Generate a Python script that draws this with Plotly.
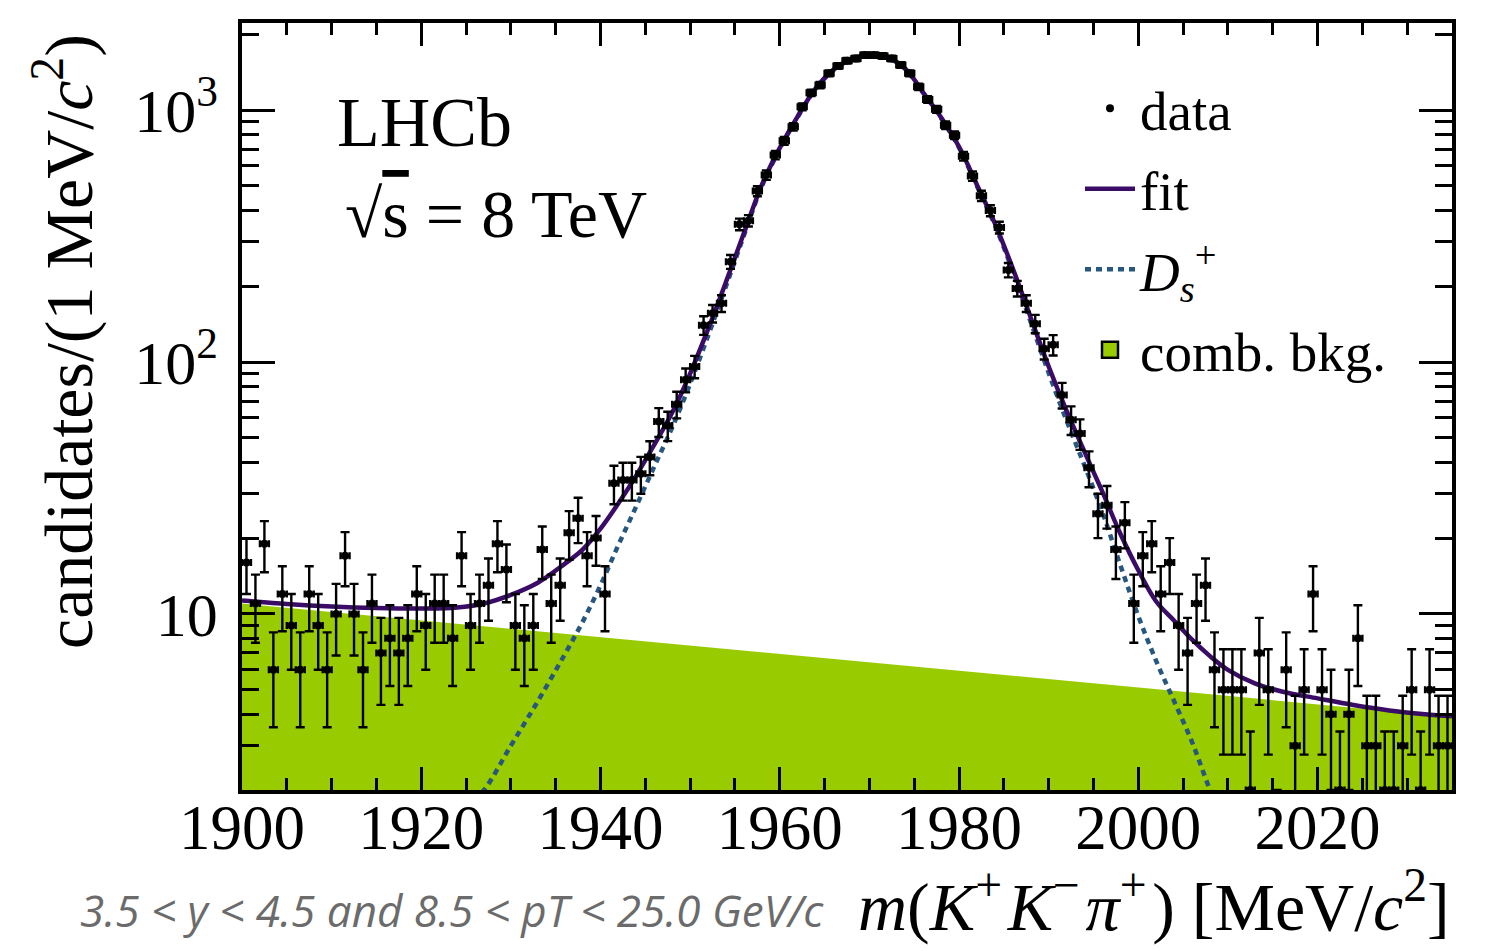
import numpy as np
import plotly.graph_objects as go

# ---------------- data ----------------
MASS_LO, MASS_HI = 1900, 2035          # x range, MeV/c^2 (1 MeV bins)
Y_LO, Y_HI = 2.0, 2217.0               # y range (log axis)

# candidates per 1 MeV bin, bins 1900-1901 ... 2034-2035
counts = [
    16, 11, 19, 6, 12, 9, 6, 12, 9, 6,          # 1900-1909
    10, 17, 10, 6, 11, 7, 8, 7, 8, 12,          # 1910-1919
    9, 11, 11, 8, 17, 9, 11, 13, 19, 15,        # 1920-1929
    9, 8, 9, 18, 11, 13, 21, 24, 17, 20,        # 1930-1939
    12, 33, 34, 34, 36, 42, 58, 56, 68, 85,     # 1940-1949
    96, 140, 156, 171, 250, 352, 364, 477, 552, 663,          # 1950-1959
    755, 858, 1031, 1171, 1257, 1400, 1496, 1570, 1604, 1653,  # 1960-1969
    1653, 1640, 1604, 1510, 1399, 1237, 1102, 1008, 871, 795,  # 1970-1979
    656, 547, 457, 399, 342, 232, 196, 171, 142, 113,          # 1980-1989
    117, 74, 59, 52, 38, 25, 27, 18, 23, 11,    # 1990-1999
    17, 19, 12, 16, 9, 7, 11, 13, 6, 5,         # 2000-2009
    5, 5, 2, 7, 5, 1, 6, 3, 5, 12,              # 2010-2019
    5, 4, 2, 4, 8, 3, 3, 2, 2, 3,               # 2020-2029
    5, 2, 5, 3, 3,                              # 2030-2034
]
bin_lo = np.arange(MASS_LO, MASS_HI)

# total fit curve
fit_mass = [1900, 1905, 1910, 1915, 1920, 1924, 1927, 1930, 1933, 1936, 1938,
            1940, 1942, 1944, 1946, 1948, 1950, 1952, 1954, 1956, 1958, 1960,
            1962, 1964, 1966, 1968, 1970, 1972, 1974, 1976, 1978, 1980, 1982,
            1984, 1986, 1988, 1990, 1992, 1994, 1996, 1998, 2000, 2002, 2004,
            2006, 2008, 2010, 2013, 2016, 2020, 2024, 2028, 2032, 2035]
fit_vals = [11.3, 10.95, 10.7, 10.55, 10.5, 10.6, 11.0, 11.9, 13.3, 15.8, 18.0,
            21.8, 27.5, 35.5, 47, 63, 90, 135, 208, 325, 505, 708,
            945, 1220, 1450, 1595, 1660, 1622, 1460, 1175, 935, 715, 505,
            355, 235, 150, 96, 64, 44, 30.5, 20.8, 14.9, 11.2, 9.4,
            7.9, 6.8, 6.0, 5.3, 4.92, 4.62, 4.35, 4.14, 4.0, 3.92]

# D_s+ signal component
ds_mass = [1925, 1927, 1930, 1933, 1936, 1938, 1940, 1942, 1944, 1946, 1948,
           1950, 1952, 1954, 1956, 1958, 1960, 1962, 1964, 1966, 1968, 1970,
           1972, 1974, 1976, 1978, 1980, 1982, 1984, 1986, 1988, 1990, 1992,
           1994, 1996, 1998, 2000, 2002, 2004, 2006, 2008, 2010]
ds_vals = [1.7, 2.0, 3.0, 4.5, 6.9, 9.3, 13.0, 18.8, 26.8, 38.5, 55,
           82, 127, 200, 318, 498, 700, 938, 1213, 1443, 1588, 1653,
           1616, 1454, 1169, 929, 709, 499, 349, 229, 144, 90.5, 58.5,
           38.8, 25.3, 15.6, 9.8, 6.5, 4.5, 3.1, 2.0, 1.35]

# combinatorial background (straight line on the log scale)
bkg_mass = [1900, 2035]
bkg_vals = [11.0, 3.9]

x_tickvals = [1900, 1920, 1940, 1960, 1980, 2000, 2020]
x_minor = [v for v in range(1905, 2035, 5) if v not in x_tickvals]
y_tickvals = [10, 100, 1000]
y_ticktext = ["10", "10<sup>2</sup>", "10<sup>3</sup>"]
y_minor = [2, 3, 4, 5, 6, 7, 8, 9, 20, 30, 40, 50, 60, 70, 80, 90,
           200, 300, 400, 500, 600, 700, 800, 900, 2000]

# ---------------- styling ----------------
SERIF = "Liberation Serif, Times New Roman, serif"
SANS = "Open Sans, DejaVu Sans, sans-serif"
PURPLE = "#3a0c68"
DSBLUE = "#27577e"
GREEN = "#99cc00"

W, H = 1485, 951
ML, MR, MT, MB = 242, 33, 23, 161
PW, PH = W - ML - MR, H - MT - MB


def px(x):
    return (x - ML) / PW


def py(y):
    return (H - MB - y) / PH


centers = bin_lo + 0.5
cnt = np.array(counts, dtype=float)
err = np.sqrt(cnt)

fig = go.Figure()

# baseline (below the axis floor) for the background fill
fig.add_trace(go.Scatter(x=bkg_mass, y=[Y_LO / 2] * len(bkg_mass), mode="lines",
                         line=dict(width=0, color=GREEN), showlegend=False,
                         hoverinfo="skip"))
fig.add_trace(go.Scatter(x=bkg_mass, y=bkg_vals, mode="lines", fill="tonexty",
                         fillcolor=GREEN, line=dict(width=0, color=GREEN),
                         showlegend=False, name="comb. bkg."))
# legend key for the background
fig.add_trace(go.Scatter(x=[None], y=[None], mode="markers", name="comb. bkg.",
                         marker=dict(symbol="square", size=16, color=GREEN,
                                     line=dict(color="black", width=2.5)),
                         legendrank=4, legendgroup="d"))

fig.add_trace(go.Scatter(x=ds_mass, y=ds_vals, mode="lines",
                         name="<i>D</i><sub><i>s</i></sub><sup>+</sup>",
                         line=dict(color=DSBLUE, width=4.5, dash="6px,5px", shape="spline"),
                         legendrank=3, legendgroup="c"))
fig.add_trace(go.Scatter(x=fit_mass, y=fit_vals, mode="lines", name="fit",
                         line=dict(color=PURPLE, width=4.5, shape="spline"),
                         legendrank=2, legendgroup="b"))
fig.add_trace(go.Scatter(x=centers, y=cnt, mode="markers", name="data",
                         marker=dict(color="black", size=8),
                         error_y=dict(type="data", array=err, arrayminus=err,
                                      color="black", thickness=2.4, width=4.5),
                         error_x=dict(type="constant", value=0.5, color="black",
                                      thickness=2.4, width=3.5),
                         legendrank=1, legendgroup="a"))

fig.update_layout(
    width=W, height=H,
    margin=dict(l=ML, r=MR, t=MT, b=MB),
    paper_bgcolor="white", plot_bgcolor="white",
    font=dict(family=SERIF, color="black", size=62),
    showlegend=True,
    legend=dict(x=px(1080), y=py(66), xanchor="left", yanchor="top",
                font=dict(family=SERIF, size=55, color="black"),
                bgcolor="rgba(0,0,0,0)", tracegroupgap=6, itemwidth=50),
    xaxis=dict(range=[MASS_LO, MASS_HI], showline=True, linecolor="black",
               linewidth=3.5, mirror="allticks", ticks="inside", ticklen=23,
               tickwidth=2.5, tickcolor="black", tickvals=x_tickvals,
               tickfont=dict(family=SERIF, size=63), showgrid=False,
               zeroline=False, ticklabelstandoff=-20,
               minor=dict(tickvals=x_minor, ticks="inside", ticklen=12,
                          tickwidth=2.5, tickcolor="black", showgrid=False)),
    yaxis=dict(type="log", range=[np.log10(Y_LO), np.log10(Y_HI)],
               showline=True, linecolor="black", linewidth=3.5,
               mirror="allticks", ticks="inside", ticklen=33, tickwidth=2.5,
               tickcolor="black", tickvals=y_tickvals, ticktext=y_ticktext,
               tickfont=dict(family=SERIF, size=62), showgrid=False,
               zeroline=False, ticklabelstandoff=8,
               minor=dict(tickvals=y_minor, ticks="inside", ticklen=17,
                          tickwidth=2.5, tickcolor="black", showgrid=False)),
)

annotations = [
    dict(text="LHCb", x=px(335), y=py(122), xanchor="left", yanchor="middle",
         font=dict(family=SERIF, size=70)),
    dict(text="√<span style='text-decoration:overline'>s</span> = 8 TeV",
         x=px(343), y=py(214), xanchor="left", yanchor="middle",
         font=dict(family=SERIF, size=68)),
    dict(text="<i>m</i>(<i>K</i><sup>+</sup>\u200a<i>K</i><sup>−</sup>\u200a<i>π</i><sup>+</sup>\u200a) [MeV/<i>c</i><sup>2</sup>]",
         x=px(1452), y=py(902), xanchor="right", yanchor="middle",
         font=dict(family=SERIF, size=68)),
    dict(text="<i>3.5 &lt; y &lt; 4.5 and 8.5 &lt; pT &lt; 25.0 GeV/c</i>",
         x=px(78), y=py(910), xanchor="left", yanchor="middle",
         font=dict(family=SANS, size=44, color="#6b6b6b")),
    dict(text="candidates/(1 MeV/<i>c</i><sup>2</sup>)", textangle=-90,
         x=px(64), y=py(342), xanchor="center", yanchor="middle",
         font=dict(family=SERIF, size=68)),
]
for a in annotations:
    a.update(xref="paper", yref="paper", showarrow=False)
fig.update_layout(annotations=annotations)

fig.write_html("out.html")
